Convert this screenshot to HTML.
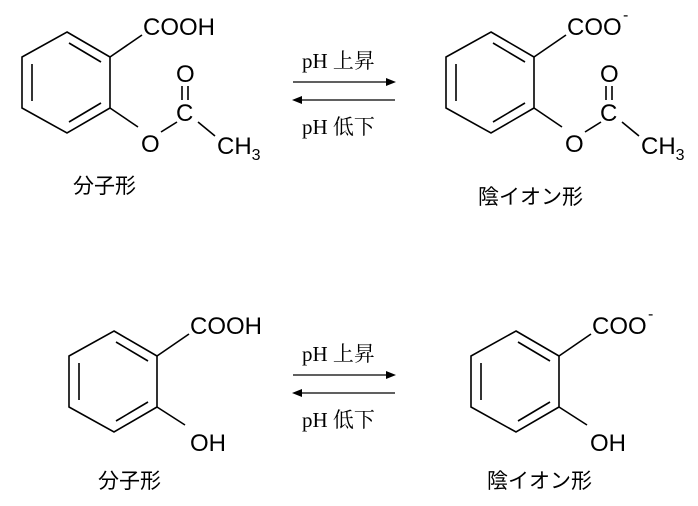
<!DOCTYPE html>
<html><head><meta charset="utf-8"><style>
html,body{margin:0;padding:0;background:#fff}
svg{display:block}
.s{font-family:"Liberation Sans","Noto Sans CJK JP",sans-serif;font-size:24px;fill:#000}
.sub{font-size:16px}
.j{font-family:"Liberation Sans","Noto Sans CJK JP",sans-serif;font-size:21px;fill:#000}
.r{font-family:"Liberation Serif","Noto Serif CJK SC",serif;font-size:21px;fill:#000}
</style></head><body>
<svg width="698" height="506" viewBox="0 0 698 506" xmlns="http://www.w3.org/2000/svg">
<defs>
<g id="ring" stroke="#000" stroke-width="1.6" fill="none">
<polygon points="67,32 110,57 110,108 67,133 22,108 22,57"/>
<line x1="32" y1="64" x2="32" y2="101"/>
<line x1="69" y1="43" x2="101" y2="62"/>
<line x1="69" y1="122" x2="101" y2="103"/>
<line x1="110" y1="57" x2="142" y2="35"/>
</g>
<g id="ester">
<g stroke="#000" stroke-width="1.6" fill="none">
<line x1="110" y1="108" x2="138" y2="127"/>
<line x1="161" y1="132" x2="177" y2="122"/>
<line x1="182" y1="86" x2="182" y2="100"/>
<line x1="188" y1="86" x2="188" y2="100"/>
<line x1="198" y1="122" x2="215" y2="136"/>
</g>
<text class="s" x="141" y="152">O</text>
<text class="s" x="176" y="82">O</text>
<text class="s" x="176" y="121">C</text>
<text class="s" x="217" y="154">CH<tspan class="sub" dy="6">3</tspan></text>
</g>
<g id="arrows">
<line x1="293" y1="82" x2="388" y2="82" stroke="#000" stroke-width="1.2"/>
<polygon points="396,82 386,78 386,86" fill="#000"/>
<line x1="300" y1="100" x2="395" y2="100" stroke="#000" stroke-width="1.2"/>
<polygon points="292,100 302,96 302,104" fill="#000"/>
<text class="r" x="302" y="68">pH 上昇</text>
<text class="r" x="302" y="134">pH 低下</text>
</g>
</defs>

<use href="#ring"/>
<use href="#ester"/>
<text class="s" x="143" y="35">COOH</text>
<text class="j" x="73" y="193">分子形</text>

<use href="#arrows"/>

<g transform="translate(424,0)">
<use href="#ring"/>
<use href="#ester"/>
<text class="s" x="143" y="35">COO</text>
<text class="s" x="199" y="20" style="font-size:16px">-</text>
</g>
<text class="j" x="478" y="204">陰イオン形</text>

<g transform="translate(47,299)">
<use href="#ring"/>
<line x1="110" y1="108" x2="138" y2="126" stroke="#000" stroke-width="1.6"/>
<text class="s" x="143" y="35">COOH</text>
<text class="s" x="143" y="152">OH</text>
</g>
<text class="j" x="98" y="488">分子形</text>

<g transform="translate(0,293)"><use href="#arrows"/></g>

<g transform="translate(449,299)">
<use href="#ring"/>
<line x1="110" y1="108" x2="138" y2="126" stroke="#000" stroke-width="1.6"/>
<text class="s" x="143" y="35">COO</text>
<text class="s" x="199" y="20" style="font-size:16px">-</text>
<text class="s" x="141" y="152">OH</text>
</g>
<text class="j" x="487" y="488">陰イオン形</text>
</svg>
</body></html>
